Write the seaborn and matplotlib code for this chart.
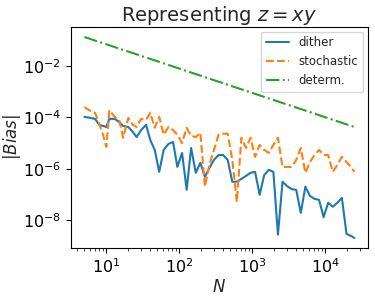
import matplotlib
matplotlib.use("Agg")
import matplotlib.pyplot as plt
import seaborn as sns
import pandas as pd

N = [5, 6, 7, 8, 9, 10, 11, 13, 15, 17, 20, 23, 26, 30, 35, 40, 46, 53, 61, 71,
     82, 94, 109, 126, 145, 168, 194, 224, 258, 298, 345, 398, 460, 531, 613,
     708, 818, 945, 1091, 1260, 1456, 1681, 1942, 2243, 2591, 2992, 3456, 3992,
     4611, 5326, 6151, 7105, 8206, 9478, 10948, 12645, 14605, 16870, 19485,
     22506, 25000]

dither = [1.04e-4, 9.5e-5, 8.7e-5, 5.1e-5, 4.6e-5, 4.2e-5, 8.7e-5, 8.7e-5, 6.6e-5,
          4.6e-5, 4.2e-5, 2.7e-5, 1.7e-5, 3.2e-5, 5.1e-5, 1.3e-5, 5.4e-6, 7.5e-7,
          5.4e-6, 9.2e-6, 1.1e-5, 1.17e-6, 4.1e-6, 1.5e-7, 6.4e-6, 6.9e-7, 1.7e-6,
          4.8e-7, 1.07e-6, 2.2e-6, 3.4e-6, 3.4e-6, 2.2e-6, 3.1e-7, 3.1e-7, 4.0e-7,
          5.2e-7, 6.9e-7, 7.5e-7, 9.6e-8, 5.7e-7, 9.0e-7, 7.5e-7, 2.7e-9, 3.1e-7,
          2.1e-7, 1.6e-7, 1.5e-7, 1.9e-8, 2.0e-7, 8.7e-8, 6.7e-8, 6.1e-8, 1.3e-8,
          4.7e-8, 3.3e-8, 4.7e-8, 7.3e-8, 2.9e-9, 2.4e-9, 2.0e-9]

stochastic = [2.5e-4, 1.8e-4, 1.5e-4, 5.5e-5, 2.1e-5, 7.0e-6, 1.9e-4, 1.04e-4, 7.9e-5,
              1.6e-5, 9.5e-5, 5.1e-5, 4.2e-5, 8.7e-5, 7.9e-5, 1.5e-4, 3.9e-5, 1.04e-4,
              2.1e-5, 4.2e-5, 3.2e-5, 2.1e-5, 1.0e-5, 3.9e-5, 1.9e-5, 1.7e-5, 2.5e-5,
              2.0e-7, 1.4e-6, 5.4e-6, 2.1e-5, 2.3e-5, 2.3e-5, 2.2e-6, 5.1e-8, 1.6e-5,
              6.4e-6, 1.6e-5, 2.9e-6, 8.4e-6, 5.4e-6, 4.1e-6, 8.4e-6, 1.6e-5, 1.17e-6,
              1.17e-6, 1.17e-6, 2.2e-6, 6.4e-6, 6.9e-7, 1.8e-6, 3.4e-6, 5.4e-6, 3.4e-6,
              3.4e-6, 7.5e-7, 1.4e-6, 2.9e-6, 1.8e-6, 1.17e-6, 7.5e-7]

N_determ = [5, 50, 500, 5000, 25000]
determ = [0.134, 0.0152, 1.71e-3, 1.94e-4, 4.2e-5]

labels = ["dither", "stochastic", "determ."]
colors = ["#1f77b4", "#ff7f0e", "#2ca02c"]
styles = ["-", "--", "-."]

sns.set_style("ticks")
plt.rcParams["font.family"] = ["DejaVu Sans"]
plt.rcParams["mathtext.fontset"] = "dejavusans"

fig = plt.figure(figsize=(3.75, 2.96), dpi=100)
ax = fig.add_axes([0.189, 0.162, 0.792, 0.747])

df1 = pd.DataFrame({"N": N, "v": dither})
df2 = pd.DataFrame({"N": N, "v": stochastic})
df3 = pd.DataFrame({"N": N_determ, "v": determ})
for df, lab, c, ls in zip([df1, df2, df3], labels, colors, styles):
    sns.lineplot(data=df, x="N", y="v", ax=ax, color=c, linestyle=ls,
                 label=lab, linewidth=1.5)

ax.set_xscale("log")
ax.set_yscale("log")
ax.set_yticks([1e-8, 1e-6, 1e-4, 1e-2])
ax.tick_params(axis="both", labelsize=11.5, colors="black", direction="out")
for s in ax.spines.values():
    s.set_color("black")
    s.set_linewidth(0.8)
ax.set_xlabel("$N$", fontsize=12, labelpad=1)
ax.set_ylabel("$|Bias|$", fontsize=12, labelpad=0)
ax.set_title("Representing $z = xy$", fontsize=14, pad=4)
ax.legend(loc="upper right", fontsize=8.5, frameon=True, handlelength=2.0,
          borderaxespad=0.4)

fig.savefig("out.png", dpi=100)
